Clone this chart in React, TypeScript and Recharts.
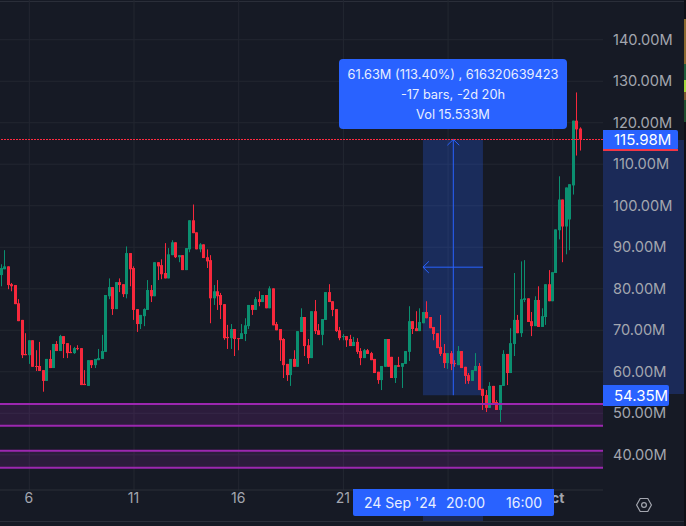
import {
  Bar,
  CartesianGrid,
  ComposedChart,
  ReferenceArea,
  ReferenceLine,
  XAxis,
  YAxis,
} from 'recharts'

const opens = [
  83.3, 84.7, 85.4, 81.1, 80.9, 76.5, 72.5, 64.3, 64.0, 67.6,
  61.4, 61.4, 60.4, 57.8, 63.1, 60.9, 66.7, 65.0, 68.6, 66.9,
  64.8, 64.5, 65.7, 65.7, 57.1, 56.6, 62.8, 61.6, 62.8, 63.1,
  64.8, 78.2, 80.4, 75.1, 81.6, 81.1, 78.7, 88.6, 85.0, 75.1,
  71.5, 73.4, 74.9, 79.7, 78.2, 86.4, 85.7, 83.8, 82.5, 88.1,
  91.2, 87.6, 88.1, 84.5, 89.5, 96.5, 93.6, 89.5, 90.7, 87.6,
  86.9, 77.7, 79.4, 78.5, 76.3, 68.4, 68.1, 70.3, 68.1, 67.9,
  69.1, 71.0, 76.1, 74.9, 77.5, 76.8, 78.5, 75.3, 80.1, 71.5,
  70.3, 67.9, 61.9, 59.2, 63.1, 61.2, 69.6, 73.2, 66.4, 63.3,
  74.6, 70.0, 68.9, 72.5, 79.2, 77.0, 75.1, 70.0, 68.4, 68.6,
  67.9, 66.2, 67.2, 65.0, 63.3, 65.2, 64.5, 63.1, 60.0, 58.0,
  61.2, 67.9, 63.6, 58.5, 61.6, 61.2, 61.9, 64.8, 72.2, 70.5,
  69.8, 71.7, 74.4, 73.2, 70.8, 69.3, 66.0, 64.5, 62.1, 64.5,
  62.1, 61.6, 65.0, 61.2, 59.2, 57.8, 60.2, 61.4, 55.9, 54.4,
  51.3, 56.6, 52.7, 50.8, 56.6, 64.3, 59.7, 66.7, 72.5, 69.3,
  77.3, 77.7, 72.2, 71.0, 77.3, 70.8, 73.2, 81.1, 77.0, 83.8,
  94.1, 101.5, 95.0, 96.7, 104.9, 120.5, 118.6,
]

const closes = [
  85.0, 85.4, 80.9, 80.6, 76.3, 72.2, 64.0, 64.0, 67.6, 61.2,
  61.2, 60.2, 57.8, 63.1, 60.9, 66.7, 65.0, 68.6, 66.7, 64.5,
  64.5, 65.7, 65.5, 56.8, 56.8, 62.8, 61.6, 63.1, 63.3, 65.0,
  78.5, 80.4, 75.1, 81.6, 80.9, 78.7, 88.6, 84.7, 74.9, 71.5,
  73.7, 75.1, 79.7, 78.2, 86.4, 85.4, 83.5, 82.5, 88.3, 91.2,
  87.6, 88.1, 84.5, 89.8, 96.5, 93.4, 89.5, 90.7, 87.4, 86.6,
  77.7, 79.4, 78.2, 76.1, 68.1, 68.1, 70.3, 67.9, 67.9, 69.3,
  71.2, 76.1, 74.9, 77.5, 76.8, 78.5, 75.3, 80.1, 71.2, 70.0,
  67.6, 61.6, 59.2, 63.1, 61.2, 69.8, 73.2, 66.2, 63.3, 74.6,
  69.8, 68.9, 72.7, 79.2, 76.8, 74.9, 69.8, 68.1, 68.6, 67.6,
  66.2, 67.2, 64.8, 63.3, 65.2, 64.3, 62.8, 59.7, 58.0, 61.4,
  67.9, 61.2, 58.5, 61.6, 61.2, 62.1, 65.0, 72.2, 70.3, 69.8,
  72.0, 74.4, 72.9, 70.5, 69.1, 65.7, 64.3, 62.1, 64.5, 61.9,
  61.9, 65.0, 60.9, 59.0, 57.8, 60.4, 61.4, 55.6, 54.2, 51.3,
  56.6, 52.5, 50.8, 56.8, 64.3, 59.7, 66.9, 72.5, 69.3, 77.5,
  77.7, 72.0, 71.0, 77.3, 70.8, 73.4, 81.1, 77.0, 84.0, 94.3,
  101.5, 95.0, 104.4, 105.2, 120.5, 118.4, 115.98,
]

const highs = [
  85.9, 89.3, 85.4, 81.4, 80.9, 77.5, 72.5, 69.3, 67.6, 67.6,
  65.2, 67.2, 60.4, 63.1, 65.2, 66.7, 67.4, 68.9, 68.6, 66.9,
  66.4, 66.0, 66.4, 65.7, 60.4, 62.8, 62.8, 63.1, 65.5, 68.9,
  78.5, 82.5, 80.4, 81.6, 82.5, 81.1, 90.2, 88.6, 85.4, 75.1,
  73.7, 75.3, 82.1, 80.9, 86.4, 86.4, 87.1, 91.0, 89.8, 91.7,
  91.2, 88.1, 88.1, 89.8, 96.5, 100.3, 93.6, 91.0, 90.7, 89.5,
  88.1, 80.9, 82.1, 79.0, 76.3, 71.3, 71.5, 70.3, 68.1, 71.5,
  72.9, 76.1, 76.1, 78.0, 79.4, 78.5, 78.5, 80.6, 80.1, 72.0,
  70.3, 68.1, 61.9, 63.1, 65.2, 69.8, 75.3, 73.2, 67.9, 74.6,
  77.3, 71.5, 72.7, 79.2, 81.1, 77.0, 75.1, 70.8, 69.1, 68.6,
  68.9, 68.4, 68.1, 65.7, 65.5, 65.5, 64.8, 63.1, 60.0, 61.4,
  67.9, 67.9, 63.6, 61.6, 63.6, 62.1, 65.0, 75.8, 72.2, 74.6,
  75.3, 74.4, 77.0, 73.2, 70.8, 69.3, 73.7, 66.7, 64.5, 65.0,
  62.8, 66.2, 65.0, 61.2, 59.7, 60.4, 64.5, 62.1, 55.9, 55.6,
  57.5, 56.6, 53.2, 56.8, 65.2, 64.3, 70.5, 83.8, 73.7, 86.6,
  86.9, 77.7, 74.4, 78.2, 80.6, 75.3, 81.1, 84.5, 84.0, 94.3,
  107.1, 101.5, 104.4, 105.2, 120.5, 127.3, 118.9,
]

const lows = [
  80.6, 84.7, 79.9, 79.4, 76.3, 72.2, 63.3, 64.0, 61.9, 61.2,
  60.2, 60.2, 55.2, 57.8, 60.9, 60.9, 65.0, 65.0, 63.3, 63.3,
  64.5, 64.3, 65.2, 56.8, 56.8, 56.6, 60.9, 60.9, 62.8, 63.1,
  64.8, 77.5, 73.7, 75.1, 79.2, 78.0, 77.7, 80.6, 72.5, 69.6,
  70.3, 71.0, 74.9, 76.8, 78.2, 82.1, 82.3, 82.5, 82.5, 88.1,
  87.4, 86.4, 84.5, 84.5, 88.8, 93.4, 89.5, 88.8, 87.4, 85.0,
  71.7, 76.1, 74.9, 72.7, 67.7, 65.5, 65.5, 63.8, 65.2, 67.9,
  67.4, 70.3, 73.7, 74.9, 75.8, 76.8, 75.3, 75.3, 71.2, 70.0,
  62.6, 58.5, 57.8, 56.6, 61.2, 61.2, 69.6, 63.8, 61.9, 63.3,
  69.1, 68.9, 66.4, 72.5, 76.8, 73.4, 69.6, 67.6, 67.6, 66.0,
  66.2, 66.2, 64.3, 61.6, 63.3, 64.3, 62.8, 59.7, 57.1, 55.6,
  61.2, 61.2, 58.5, 57.3, 61.2, 56.1, 61.9, 62.6, 69.1, 69.8,
  69.8, 71.7, 72.9, 70.5, 67.6, 65.7, 63.8, 60.9, 60.7, 60.4,
  61.2, 61.6, 60.9, 57.1, 57.1, 57.8, 60.2, 55.6, 50.8, 50.3,
  51.3, 52.5, 50.8, 47.9, 56.6, 56.8, 59.7, 63.8, 69.3, 68.4,
  76.8, 72.0, 68.6, 71.0, 70.8, 70.8, 71.3, 77.0, 77.0, 83.8,
  91.9, 86.4, 88.3, 89.3, 102.7, 112.1, 113.3,
]

const priceTicks = [40, 50, 60, 70, 80, 90, 100, 110, 120, 130, 140]
const timeTicks = [8, 38, 68, 98, 128, 158]
// the tick at 128 is hidden behind the crosshair label in the reference
const timeLabels = ['6', '11', '16', '21', '', 'Oct']

const lastPrice = 115.98
const rangeLow = 54.35
const supportZones = [
  [46.97, 52.26],
  [36.87, 40.96],
]
const measureBars = [120.8, 138]
const measureMidBar = 129.5
const measureMidPrice = 85.2

const tooltipLines = ['61.63M (113.40%) , 616320639423', '-17 bars, -2d 20h', 'Vol 15.533M']

const UP = '#0b8f70'
const DOWN = '#f7283c'
const BG = '#161a25'
const GRID = '#232731'
const AXIS_TEXT = '#a3a6af'
const BLUE = '#2962ff'
const NAVY = '#1b2a58'
const PURPLE = '#9c27b0'

const candles = opens.map((open, i) => ({
  i,
  open,
  close: closes[i],
  high: highs[i],
  low: lows[i],
}))

function Candle(props: any) {
  const { x, y, height, payload } = props
  const { open, close, high, low } = payload
  const perUnit = height / (high - low)
  const bodyY = y + (high - Math.max(open, close)) * perUnit
  const bodyH = Math.max(Math.abs(open - close) * perUnit, 1)
  const color = close >= open ? UP : DOWN
  const left = Math.round(x)
  return (
    <g>
      <rect x={left + 1} y={y} width={1} height={height} fill={color} />
      <rect x={left} y={bodyY} width={3} height={bodyH} fill={color} />
    </g>
  )
}

function TimeTick(props: any) {
  const { x, y, payload } = props
  const label = timeLabels[timeTicks.indexOf(payload.value)]
  if (!label) return <g />
  return (
    <text
      x={x - 0.5}
      y={y + 5}
      textAnchor="middle"
      fontSize={14}
      fill={AXIS_TEXT}
      fontWeight={label === 'Oct' ? 700 : 400}
    >
      {label}
    </text>
  )
}

function PriceTag({ top, width, height, text }: { top: number; width: number; height: number; text: string }) {
  return (
    <div
      style={{
        position: 'absolute',
        left: 603,
        top,
        width,
        height,
        lineHeight: `${height}px`,
        background: BLUE,
        color: '#fff',
        fontSize: 15,
        paddingLeft: 11,
        boxSizing: 'border-box',
        borderRadius: '0 2px 2px 0',
      }}
    >
      {text}
    </div>
  )
}

export default function App() {
  return (
    <div
      style={{
        position: 'absolute',
        left: 0,
        top: 0,
        width: 686,
        height: 526,
        overflow: 'hidden',
        background: BG,
        fontFamily: 'Inter, sans-serif',
      }}
    >
      {/* measure range on both axes, behind the chart */}
      <div style={{ position: 'absolute', left: 603, top: 140, width: 81, height: 254, background: NAVY }} />
      <div style={{ position: 'absolute', left: 423, top: 490, width: 60, height: 31, background: NAVY }} />
      <div style={{ position: 'absolute', left: 0, top: 521, width: 684, height: 1, background: '#2a2e39' }} />
      <div style={{ position: 'absolute', left: 0, top: 1, width: 684, height: 1, background: '#2a2e39' }} />

      {/* edge of the next panel, cut off by the screenshot */}
      <div style={{ position: 'absolute', left: 684, top: 0, width: 2, height: 526, background: '#0f1016' }} />
      <div style={{ position: 'absolute', left: 684, top: 19, width: 2, height: 45, background: '#8a6a30' }} />
      <div style={{ position: 'absolute', left: 684, top: 64, width: 2, height: 16, background: '#1f5f3a' }} />
      <div style={{ position: 'absolute', left: 684, top: 80, width: 2, height: 12, background: '#a4d63a' }} />
      <div style={{ position: 'absolute', left: 684, top: 92, width: 2, height: 8, background: '#7a5a2c' }} />
      <div style={{ position: 'absolute', left: 684, top: 100, width: 2, height: 22, background: '#1f4f2e' }} />

      <div style={{ position: 'absolute', left: 0, top: 0 }}>
        <ComposedChart
          width={686}
          height={526}
          data={candles}
          margin={{ top: 0, right: 0, bottom: 0, left: 0 }}
          style={{ fontFamily: 'Inter, sans-serif' }}
        >
          <CartesianGrid stroke={GRID} syncWithTicks />
          <XAxis
            dataKey="i"
            type="number"
            domain={[-0.4, 172.4]}
            ticks={timeTicks}
            height={36}
            tick={<TimeTick />}
            tickLine={false}
            axisLine={{ stroke: '#2a2e39' }}
            interval={0}
          />
          <YAxis
            orientation="right"
            width={83}
            domain={[31.52, 149.57]}
            allowDataOverflow
            ticks={priceTicks}
            tickFormatter={(v: number) => `${v.toFixed(2)}M`}
            tick={{ fill: AXIS_TEXT, fontSize: 14.6 }}
            tickLine={false}
            tickSize={0}
            tickMargin={10}
            axisLine={false}
            interval={0}
          />
          <Bar
            dataKey={(d: any) => [d.low, d.high]}
            barSize={3}
            shape={<Candle />}
            isAnimationActive={false}
          />
          <ReferenceArea
            x1={measureBars[0]}
            x2={measureBars[1]}
            y1={rangeLow}
            y2={lastPrice}
            fill={BLUE}
            fillOpacity={0.25}
            stroke="none"
          />
          <ReferenceLine
            segment={[
              { x: measureMidBar, y: rangeLow },
              { x: measureMidBar, y: lastPrice },
            ]}
            stroke={BLUE}
          />
          <ReferenceLine
            segment={[
              { x: measureBars[0], y: measureMidPrice },
              { x: measureBars[1], y: measureMidPrice },
            ]}
            stroke={BLUE}
          />
          <ReferenceLine
            segment={[
              { x: measureBars[0] + 1.7, y: measureMidPrice + 1.4 },
              { x: measureBars[0], y: measureMidPrice },
            ]}
            stroke={BLUE}
          />
          <ReferenceLine
            segment={[
              { x: measureBars[0] + 1.7, y: measureMidPrice - 1.4 },
              { x: measureBars[0], y: measureMidPrice },
            ]}
            stroke={BLUE}
          />
          <ReferenceLine
            segment={[
              { x: measureMidBar - 1.7, y: lastPrice - 1.4 },
              { x: measureMidBar, y: lastPrice },
            ]}
            stroke={BLUE}
          />
          <ReferenceLine
            segment={[
              { x: measureMidBar + 1.7, y: lastPrice - 1.4 },
              { x: measureMidBar, y: lastPrice },
            ]}
            stroke={BLUE}
          />
          {supportZones.map(([low, high]) => (
            <ReferenceArea
              key={low}
              x1={-0.4}
              x2={172.4}
              y1={low}
              y2={high}
              fill={PURPLE}
              fillOpacity={0.17}
              stroke="none"
            />
          ))}
          {supportZones.flat().map((p) => (
            <ReferenceLine key={p} y={p} stroke={PURPLE} strokeWidth={2} />
          ))}
          <ReferenceLine
            y={lastPrice}
            stroke="#ff2a40"
            strokeDasharray="2 1"
            shapeRendering="crispEdges"
          />
        </ComposedChart>
      </div>

      {/* tooltip and axis tags sit above the chart */}
      <div
        style={{
          position: 'absolute',
          left: 339,
          top: 59,
          width: 228,
          height: 70,
          padding: '6px 0',
          boxSizing: 'border-box',
          background: BLUE,
          borderRadius: 4,
          color: '#e8eeff',
          fontSize: 12.8,
          lineHeight: '20px',
          textAlign: 'center',
        }}
      >
        {tooltipLines.map((line) => (
          <div key={line}>{line}</div>
        ))}
      </div>

      <PriceTag top={130} width={75} height={20} text="115.98M" />
      <div style={{ position: 'absolute', left: 603, top: 149, width: 75, height: 2, background: '#f23645' }} />
      <PriceTag top={385} width={66} height={21} text="54.35M" />

      <div
        style={{
          position: 'absolute',
          left: 353,
          top: 489,
          width: 201,
          height: 27,
          lineHeight: '27px',
          background: BLUE,
          borderRadius: '0 0 2px 2px',
          color: '#e8eeff',
          fontSize: 14,
        }}
      >
        <span style={{ position: 'absolute', left: 11 }}>24 Sep '24</span>
        <span style={{ position: 'absolute', left: 93 }}>20:00</span>
        <span style={{ position: 'absolute', left: 153 }}>16:00</span>
      </div>

      <svg style={{ position: 'absolute', left: 635, top: 496 }} width={18} height={18} viewBox="0 0 18 18">
        <path
          d="M5.2 2.5 L12.8 2.5 L16.4 9 L12.8 15.5 L5.2 15.5 L1.6 9 Z"
          fill="none"
          stroke={AXIS_TEXT}
          strokeWidth={1.2}
        />
        <circle cx={9} cy={9} r={2.4} fill="none" stroke={AXIS_TEXT} strokeWidth={1.2} />
      </svg>
    </div>
  )
}
